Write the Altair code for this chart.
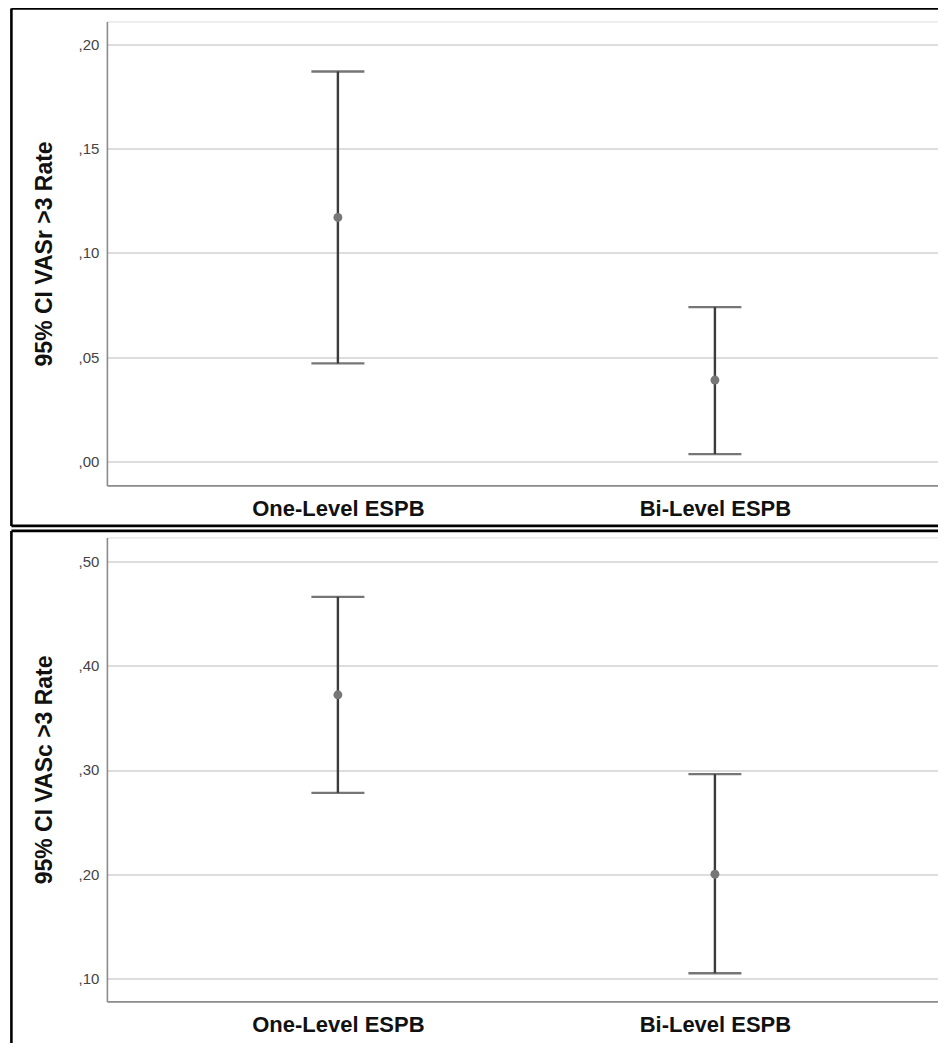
import altair as alt
import pandas as pd

categories = ["One-Level ESPB", "Bi-Level ESPB"]

# Panel 1: VASr > 3 rate
vasr_mean = [0.117, 0.039]
vasr_lower = [0.047, 0.0035]
vasr_upper = [0.187, 0.074]

# Panel 2: VASc > 3 rate
vasc_mean = [0.372, 0.200]
vasc_lower = [0.278, 0.105]
vasc_upper = [0.466, 0.296]

vasr_ticks = [0.00, 0.05, 0.10, 0.15, 0.20]
vasc_ticks = [0.10, 0.20, 0.30, 0.40, 0.50]

W = 832
H = 464
FONT = "Liberation Sans"
BAR_COLOR = "#3c3c3c"
FRAME_W = 2.6
LABEL_EXPR = "replace(format(datum.value, '.2f'), '0.', ',')"


def panel(mean, lower, upper, ticks, domain, title, border_top, border_bottom, left_bottom):
    df = pd.DataFrame({"cat": categories, "mean": mean, "lower": lower, "upper": upper})
    xscale = alt.Scale(type="point", padding=0.6034, align=0.5077, domain=categories)
    x = alt.X("cat:N", scale=xscale,
              axis=alt.Axis(title=None, labelAngle=0, labelFontSize=22, labelFontWeight="bold",
                            labelColor="#111111", labelPadding=13, ticks=False, grid=False,
                            domainColor="#8c8c8c", domainWidth=1.6, labelFont=FONT))
    yscale = alt.Scale(domain=domain, nice=False, zero=False)
    yaxis = alt.Axis(title=title, values=ticks, labelExpr=LABEL_EXPR, ticks=False,
                     grid=True, gridColor="#d2d2d2", gridWidth=1.5,
                     domainColor="#8c8c8c", domainWidth=1.6,
                     labelFontSize=15, labelColor="#444444", labelPadding=8, labelFont=FONT,
                     titleFontSize=23, titleFontWeight="bold", titleColor="#111111",
                     titlePadding=22, titleFont=FONT)
    base = alt.Chart(df)
    xs = alt.X("cat:N", scale=xscale)
    rule = base.mark_rule(color=BAR_COLOR, strokeWidth=2.4).encode(
        x=x, y=alt.Y("lower:Q", scale=yscale, axis=yaxis), y2="upper:Q")
    cap_lo = base.mark_tick(color=BAR_COLOR, size=53, thickness=2.4).encode(
        x=xs, y="lower:Q")
    cap_hi = base.mark_tick(color=BAR_COLOR, size=53, thickness=2.4).encode(
        x=xs, y="upper:Q")
    pt = base.mark_circle(color="#777777", size=80, opacity=1).encode(
        x=xs, y="mean:Q")

    one = alt.Data(values=[{"k": 1}])
    frame = []
    frame.append(alt.Chart(one).mark_rule(color="black", strokeWidth=FRAME_W).encode(
        x=alt.value(-95.5), y=alt.value(border_top), y2=alt.value(left_bottom)))
    frame.append(alt.Chart(one).mark_rule(color="black", strokeWidth=FRAME_W).encode(
        x=alt.value(-95.5), x2=alt.value(W + 5), y=alt.value(border_top)))
    if border_bottom is not None:
        frame.append(alt.Chart(one).mark_rule(color="black", strokeWidth=FRAME_W).encode(
            x=alt.value(-95.5), x2=alt.value(W + 5), y=alt.value(border_bottom)))

    return alt.layer(rule, cap_lo, cap_hi, pt, *frame).properties(width=W, height=H)


top = panel(vasr_mean, vasr_lower, vasr_upper, vasr_ticks, [-0.0115, 0.211],
            "95% CI VASr >3 Rate", -13, 504.5, 504.5)
bottom = panel(vasc_mean, vasc_lower, vasc_upper, vasc_ticks, [0.078, 0.523],
               "95% CI VASc >3 Rate", -6.5, None, 520)

chart = alt.vconcat(top, bottom, spacing=0).properties(
    padding={"left": 0.9, "top": -1.6, "right": -7.6, "bottom": -16}
).configure_view(stroke=None).configure(font=FONT, background="white")

chart.save("out.html", embed_options={"renderer": "svg", "actions": False})
